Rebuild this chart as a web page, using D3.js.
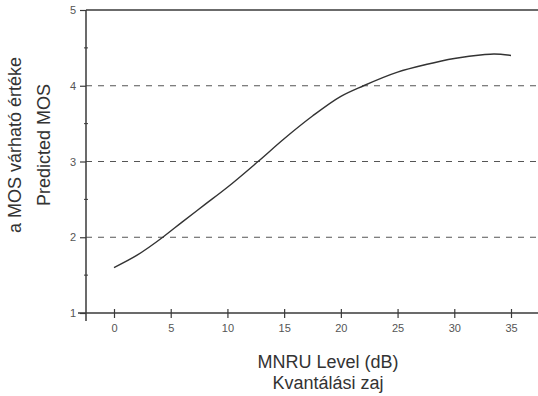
<!DOCTYPE html>
<html>
<head>
<meta charset="utf-8">
<script src="https://cdn.jsdelivr.net/npm/d3@7"></script>
<style>
  body { margin: 0; background: #fff; }
  svg { display: block; font-family: "Liberation Sans", Arial, sans-serif; }
</style>
</head>
<body>
<svg width="538" height="396"></svg>
<script>
const svg = d3.select("svg");

// curve
const level = [0, 2, 4.3, 6, 8, 10, 12.7, 15, 17.5, 20, 22, 25, 27.5, 30, 32.5, 33.5, 35];
const mos   = [1.6, 1.76, 2.0, 2.2, 2.43, 2.66, 3.0, 3.3, 3.6, 3.86, 4.0, 4.18, 4.28, 4.36, 4.41, 4.42, 4.40];

const xTicks = [0, 5, 10, 15, 20, 25, 30, 35];
const yTicks = [1, 2, 3, 4, 5];
const yMinor = [1.5, 2.5, 3.5, 4.5];
const gridAt = [2, 3, 4];

const ink = "#3a3a3a";
const axisX = 86, right = 538;

const x = d3.scaleLinear().domain([0, 35]).range([114, 511]);
const y = d3.scaleLinear().domain([1, 5]).range([313, 10]);

// dashed grid lines
svg.append("g")
    .selectAll("line")
    .data(gridAt)
    .enter().append("line")
    .attr("x1", axisX).attr("x2", right)
    .attr("y1", d => y(d)).attr("y2", d => y(d))
    .style("stroke", "#555")
    .style("stroke-width", 1)
    .style("stroke-dasharray", "6,6");

// top frame line at 5
svg.append("line")
    .attr("x1", axisX).attr("x2", right)
    .attr("y1", y(5)).attr("y2", y(5))
    .style("stroke", ink).style("stroke-width", 1.3);

// y axis
const yAxis = svg.append("g")
    .attr("transform", `translate(${axisX},0)`)
    .call(d3.axisLeft(y).tickValues(yTicks).tickSize(6).tickPadding(4).tickFormat(d3.format("d")));
yAxis.select(".domain").remove();
yAxis.append("line")
    .attr("x1", 0).attr("x2", 0)
    .attr("y1", y(5)).attr("y2", y(1) + 8)
    .style("stroke", ink).style("stroke-width", 1.5);
yAxis.selectAll(".tick line").style("stroke", ink).style("stroke-width", 1.2);
yAxis.selectAll("text").style("font-size", "11px").style("fill", "#555");

// minor ticks on y axis
svg.append("g")
    .selectAll("line")
    .data(yMinor)
    .enter().append("line")
    .attr("x1", axisX - 2).attr("x2", axisX + 2)
    .attr("y1", d => y(d)).attr("y2", d => y(d))
    .style("stroke", ink);

// x axis
const xAxis = svg.append("g")
    .attr("transform", `translate(0,${y(1)})`)
    .call(d3.axisBottom(x).tickValues(xTicks).tickSize(5).tickPadding(6));
xAxis.select(".domain").remove();
xAxis.append("line")
    .attr("x1", 78).attr("x2", right)
    .style("stroke", ink).style("stroke-width", 1.3);
xAxis.selectAll(".tick line")
    .attr("y1", -4)
    .style("stroke", ink).style("stroke-width", 1.2);
xAxis.selectAll("text").style("font-size", "11px").style("fill", "#555");

// curve
const line = d3.line()
    .x((d, i) => x(level[i]))
    .y(d => y(d))
    .curve(d3.curveMonotoneX);

svg.append("path")
    .datum(mos)
    .attr("d", line)
    .style("fill", "none")
    .style("stroke", "#333")
    .style("stroke-width", 1.4);

// axis titles
const midY = 145;
svg.append("text")
    .attr("transform", `translate(21,${midY}) rotate(-90)`)
    .attr("text-anchor", "middle")
    .style("font-size", "18px").style("fill", "#333")
    .text("a MOS várható értéke");
svg.append("text")
    .attr("transform", `translate(50,${midY}) rotate(-90)`)
    .attr("text-anchor", "middle")
    .style("font-size", "18px").style("fill", "#333")
    .text("Predicted MOS");

svg.append("text")
    .attr("x", 328).attr("y", 368)
    .attr("text-anchor", "middle")
    .style("font-size", "18px").style("fill", "#333")
    .text("MNRU Level (dB)");
svg.append("text")
    .attr("x", 328).attr("y", 389)
    .attr("text-anchor", "middle")
    .style("font-size", "18px").style("fill", "#333")
    .text("Kvantálási zaj");
</script>
</body>
</html>
